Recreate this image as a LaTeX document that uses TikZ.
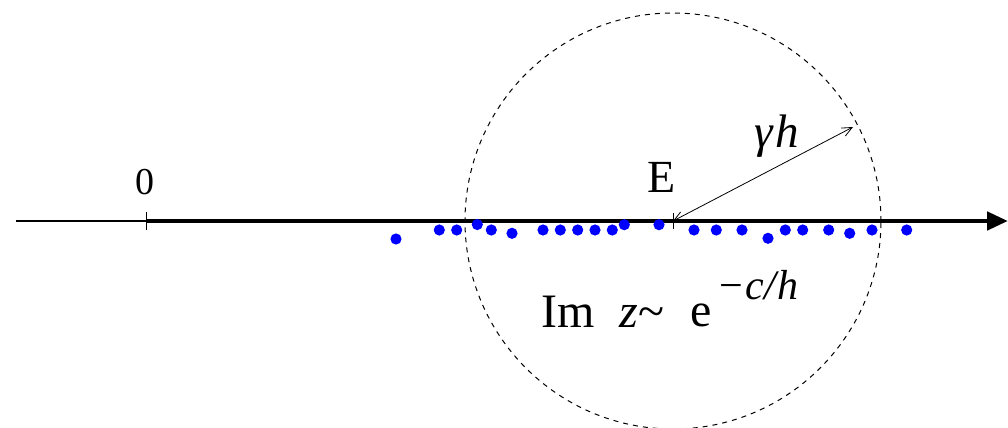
\documentclass[tikz,border=0pt]{standalone}
\usepackage{fontspec}
\setmainfont{Liberation Serif}
\usetikzlibrary{arrows.meta}
\begin{document}
\begin{tikzpicture}[x=0.5pt,y=-0.5pt,
  dot/.style={circle,fill=blue,inner sep=0pt,minimum size=5.6pt},
  lbl/.style={anchor=base,inner sep=0pt},
  thinaxis/.style={line width=0.65pt},
  thickaxis/.style={line width=2.35pt,-{Triangle[length=10.5pt,width=9pt]}},
  tickmark/.style={line width=0.5pt},
  radius/.style={line width=0.4pt,{Straight Barb[length=5pt,width=4.5pt]}-{Straight Barb[length=5pt,width=4.5pt]}},
  ring/.style={circle,draw,dash pattern=on 2.5pt off 2.5pt,line width=0.5pt,inner sep=0pt,outer sep=0pt,minimum size=208pt}
]
\useasboundingbox (0,0) rectangle (1008,428);
\coordinate (L) at (16,221);
\coordinate (O) at (146,221);
\coordinate (T) at (1008,221);
\coordinate (E) at (673,221);
\coordinate (R) at (853,127);
\node[ring] (C) at (E) {};
\draw[thinaxis] (L) -- (O);
\draw[thickaxis] (O) -- (T);
\coordinate (Ot) at (146,212); \coordinate (Ob) at (146,230);
\draw[tickmark] (Ot) -- (Ob);
\coordinate (Et) at (673,213); \coordinate (Eb) at (673,229);
\draw[tickmark] (Et) -- (Eb);
\draw[radius] (E) -- (R);
\foreach \x/\y [count=\i] in {396/239,439.3/230,456.7/230,477.3/224.5,491.3/230,512/233.3,543/230,560.3/230,577.7/230,595/230,612.3/230,624.3/224.7,659/224.7,694/230,716.3/230,742/230,768/238.3,785.3/230,802.7/230,828.7/230,849.7/233.3,872/230,906.7/230}
  \node[dot] (d\i) at (\x,\y) {};
\node[lbl,font=\fontsize{19}{22}\selectfont] (zero) at (145,194) {0};
\node[lbl,font=\fontsize{23}{26}\selectfont] (Elbl) at (662,192) {E};
\node[lbl,font=\fontsize{23.5}{26}\selectfont\itshape] (gh) at (777,147) {γ\kern1pt h};
\node[lbl,font=\fontsize{24}{28}\selectfont] (Im) at (568,327) {Im};
\node[lbl,font=\fontsize{24}{28}\selectfont] (z) at (642,327) {\textit{z}\textasciitilde};
\node[lbl,font=\fontsize{24}{28}\selectfont] (e) at (701,326) {e};
\node[lbl,font=\fontsize{21}{26}\selectfont] (sup) at (759,299) {−\kern1pt\textit{c\kern0.5pt/\kern0.5pt h}};
\end{tikzpicture}
\end{document}
